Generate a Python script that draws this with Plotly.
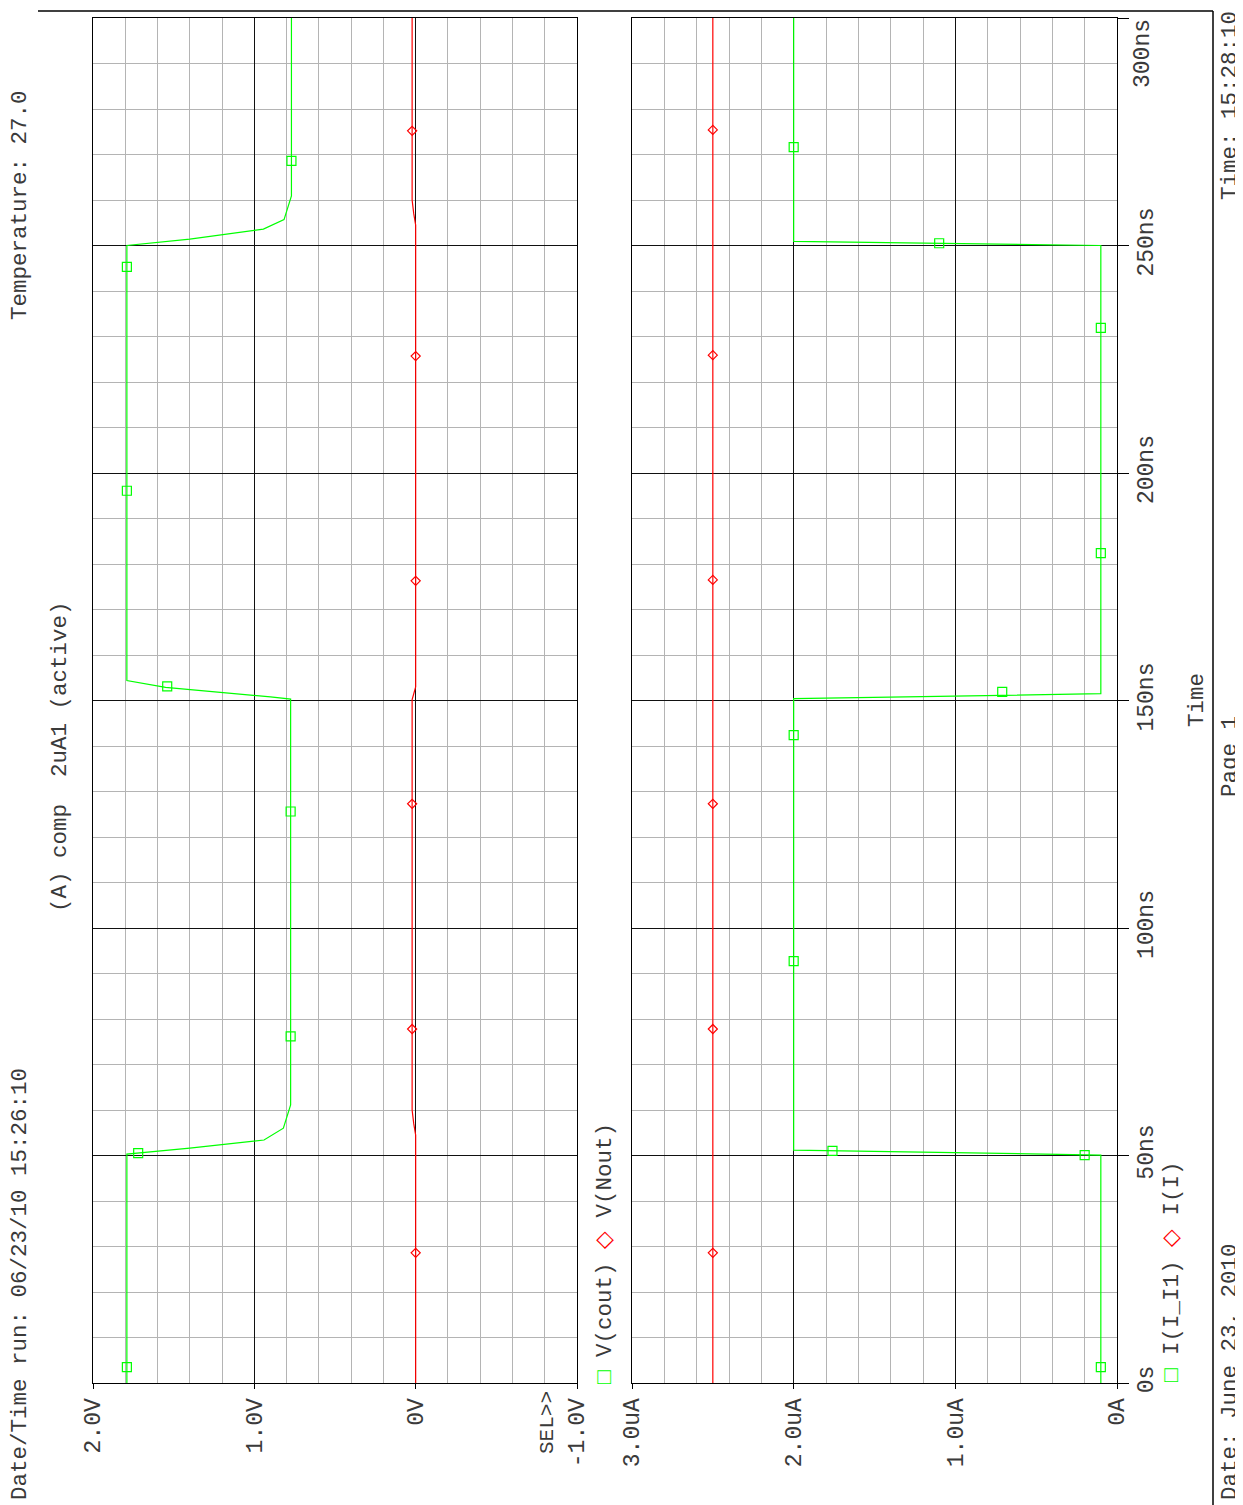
import plotly.graph_objects as go

# ---------------- data ----------------
# V(cout) trace (time in ns, volts)
t_cout = [0, 50.3, 51.6, 53.0, 53.4, 56.0, 61.1, 150.3, 150.8, 152.9, 154.4,
          250.0, 251.4, 253.6, 255.7, 260.9, 300]
v_cout = [1.79, 1.79, 1.40, 1.01, 0.94, 0.82, 0.775, 0.775, 0.90, 1.55, 1.79,
          1.79, 1.40, 0.944, 0.816, 0.77, 0.77]
# V(Nout) trace
t_nout = [0, 54.5, 57, 60, 150.2, 151.5, 153, 250.2, 254.5, 257, 260, 300]
v_nout = [0, 0, 0.012, 0.022, 0.022, 0.01, 0, 0, 0, 0.012, 0.022, 0.022]
# I(I_I1) trace (uA)
t_ii1 = [0, 50.1, 51.2, 150.4, 151.5, 250.0, 250.9, 300]
i_ii1 = [0.1, 0.1, 2.0, 2.0, 0.1, 0.1, 2.0, 2.0]
# I(I) trace (uA)
t_ii = [0, 300]
i_ii = [2.5, 2.5]

# symbol markers placed along the traces
cout_mt = [3.5, 50.5, 76.2, 125.6, 153.1, 196.1, 245.3, 268.6]
cout_mv = [1.79, 1.72, 0.775, 0.775, 1.54, 1.79, 1.79, 0.77]
nout_mt = [28.6, 77.8, 127.3, 176.3, 225.7, 275.2]
nout_mv = [0, 0.022, 0.022, 0, 0, 0.022]
ii1_mt = [3.5, 50.1, 51.0, 92.7, 142.4, 151.9, 182.4, 231.9, 250.5, 271.6]
ii1_mv = [0.1, 0.2, 1.76, 2.0, 2.0, 0.71, 0.1, 0.1, 1.1, 2.0]
ii_mt = [28.6, 77.8, 127.3, 176.5, 225.9, 275.4]
ii_mv = [2.5, 2.5, 2.5, 2.5, 2.5, 2.5]

# tick labels
v_ticks = [2, 1, 0, -1]
v_labels = ["2.0V", "1.0V", "0V", "-1.0V"]
i_ticks = [3, 2, 1, 0]
i_labels = ["3.0uA", "2.0uA", "1.0uA", "0A"]
t_ticks = [0, 50, 100, 150, 200, 250]
t_labels = ["0s", "50ns", "100ns", "150ns", "200ns", "250ns"]

# ---------------- figure ----------------
OFF = 8                     # page body margin of the browser
W, H = 1243 - OFF, 1505 - OFF
L, T = 93 - OFF, 18 - OFF
R = W - (1117 - OFF)
B = H - (1383 - OFF)
PW, PH = W - L - R, H - T - B


def px(x):
    return (x - OFF - L) / PW


def py(y):
    return (H - B - (y - OFF)) / PH


GREEN = "#00ff00"
RED = "#ff0000"
FONT = "Liberation Mono"
TXT = "#3a3a3a"

fig = go.Figure()

fig.add_trace(go.Scatter(x=v_cout, y=t_cout, mode="lines", line=dict(color=GREEN, width=1.2),
                         xaxis="x", yaxis="y", showlegend=False))
fig.add_trace(go.Scatter(x=v_nout, y=t_nout, mode="lines", line=dict(color=RED, width=1.2),
                         xaxis="x", yaxis="y", showlegend=False))
fig.add_trace(go.Scatter(x=cout_mv, y=cout_mt, mode="markers",
                         marker=dict(symbol="square-open", size=9, color=GREEN, line=dict(width=1.2)),
                         xaxis="x", yaxis="y", showlegend=False))
fig.add_trace(go.Scatter(x=nout_mv, y=nout_mt, mode="markers",
                         marker=dict(symbol="diamond-open", size=7, color=RED, line=dict(width=1.2)),
                         xaxis="x", yaxis="y", showlegend=False))

fig.add_trace(go.Scatter(x=i_ii1, y=t_ii1, mode="lines", line=dict(color=GREEN, width=1.2),
                         xaxis="x2", yaxis="y2", showlegend=False))
fig.add_trace(go.Scatter(x=i_ii, y=t_ii, mode="lines", line=dict(color=RED, width=1.2),
                         xaxis="x2", yaxis="y2", showlegend=False))
fig.add_trace(go.Scatter(x=ii1_mv, y=ii1_mt, mode="markers",
                         marker=dict(symbol="square-open", size=9, color=GREEN, line=dict(width=1.2)),
                         xaxis="x2", yaxis="y2", showlegend=False))
fig.add_trace(go.Scatter(x=ii_mv, y=ii_mt, mode="markers",
                         marker=dict(symbol="diamond-open", size=7, color=RED, line=dict(width=1.2)),
                         xaxis="x2", yaxis="y2", showlegend=False))

GRID_MAJ = "#111111"
GRID_MIN = "#b4b4b4"

xcommon = dict(showline=True, mirror=True, linecolor="#000000", linewidth=1,
               showgrid=True, gridcolor=GRID_MAJ, gridwidth=1, zeroline=False,
               ticks="outside", ticklen=5, tickcolor="#000000", tickangle=-90,
               tickfont=dict(family=FONT, size=23, color=TXT), tickmode="array")

fig.update_layout(
    width=W, height=H,
    margin=dict(l=L, r=R, t=T, b=B, autoexpand=False),
    paper_bgcolor="white", plot_bgcolor="white",
    showlegend=False,
    xaxis=dict(domain=[0, px(577)], range=[2, -1], anchor="y",
               tickvals=v_ticks, ticktext=v_labels,
               minor=dict(tickmode="array",
                          tickvals=[1.8, 1.6, 1.4, 1.2, 0.8, 0.6, 0.4, 0.2,
                                    -0.2, -0.4, -0.6, -0.8],
                          showgrid=True, gridcolor=GRID_MIN, gridwidth=1, ticks=""),
               **xcommon),
    xaxis2=dict(domain=[px(632), 1], range=[3, 0], anchor="y2",
                tickvals=i_ticks, ticktext=i_labels,
                minor=dict(tickmode="array",
                           tickvals=[2.8, 2.6, 2.4, 2.2, 1.8, 1.6, 1.4, 1.2,
                                     0.8, 0.6, 0.4, 0.2],
                           showgrid=True, gridcolor=GRID_MIN, gridwidth=1, ticks=""),
                **xcommon),
    yaxis=dict(domain=[0, 1], range=[0, 300], anchor="x",
               showline=True, mirror=True, linecolor="#000000", linewidth=1,
               showgrid=True, gridcolor=GRID_MAJ, gridwidth=1, zeroline=False,
               tickmode="linear", tick0=0, dtick=50, showticklabels=False, ticks="",
               minor=dict(tickmode="linear", tick0=0, dtick=10, showgrid=True,
                          gridcolor=GRID_MIN, gridwidth=1, ticks="")),
    yaxis2=dict(domain=[0, 1], range=[0, 300], anchor="x2", side="right",
                showline=True, mirror=True, linecolor="#000000", linewidth=1,
                showgrid=True, gridcolor=GRID_MAJ, gridwidth=1, zeroline=False,
                tickmode="array", tickvals=t_ticks + [300], ticktext=t_labels + [""],
                ticks="outside", ticklen=11, tickcolor="#000000", tickangle=-90,
                ticklabelstandoff=-4,
                tickfont=dict(family=FONT, size=23, color=TXT),
                minor=dict(tickmode="linear", tick0=0, dtick=10, showgrid=True,
                           gridcolor=GRID_MIN, gridwidth=1, ticks="")),
)


def note(text, x, y, size=22.5, **kw):
    fig.add_annotation(text=text, x=px(x), y=py(y), xref="paper", yref="paper",
                       showarrow=False, textangle=-90, xanchor="center", yanchor="middle",
                       font=dict(family=FONT, size=size, color=TXT), **kw)


note("Date/Time run: 06/23/10 15:26:10", 20, 1284)
note("Temperature: 27.0", 20, 205)
note("(A) comp  2uA1 (active)", 60, 757)
note("Date: June 23, 2010", 1230, 1372)
note("Page 1", 1230, 757)
note("Time: 15:28:10", 1230, 106)
note("Time", 1197, 700)
note("SEL>>", 548, 1423, size=21)
note("300ns", 1143, 54, size=23)
note(f"<span style='color:{GREEN}'>□</span> V(cout) <span style='color:{RED}'>◇</span> V(Nout)",
     605, 1254, size=22.5)
note(f"<span style='color:{GREEN}'>□</span> I(I_I1) <span style='color:{RED}'>◇</span> I(I)",
     1172, 1272, size=22.5)

# outer page frame
fig.add_shape(type="line", xref="paper", yref="paper",
              x0=px(38), x1=px(1213), y0=py(11), y1=py(11),
              line=dict(color="#000000", width=1.5))
fig.add_shape(type="line", xref="paper", yref="paper",
              x0=px(1213), x1=px(1213), y0=py(11), y1=py(1505),
              line=dict(color="#000000", width=1.5))

fig.write_html("out.html")
